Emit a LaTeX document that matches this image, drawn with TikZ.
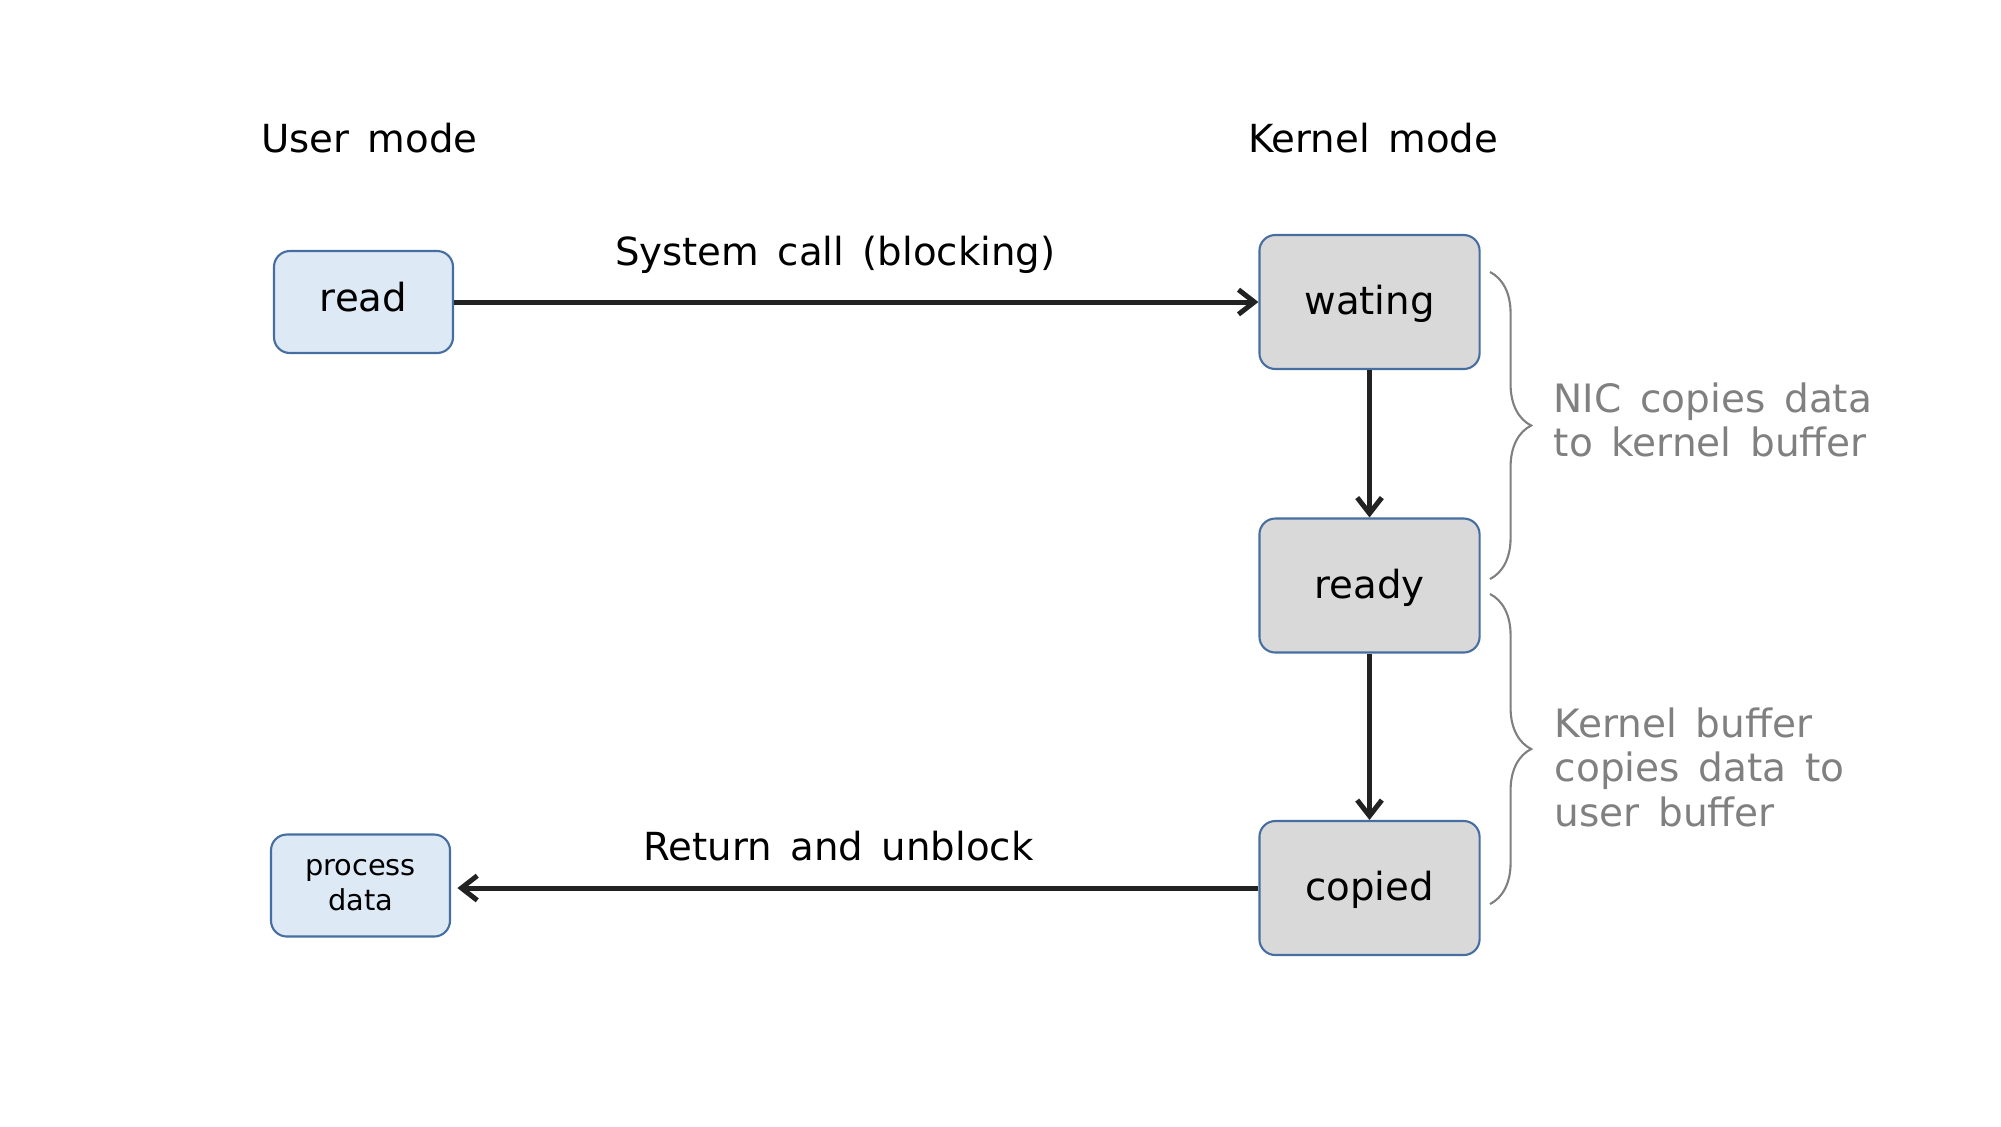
\documentclass[tikz,border=0pt]{standalone}
\usepackage{fontspec}
\setmainfont{DejaVu Sans}[WordSpace=1.5]
\usetikzlibrary{arrows.meta,decorations.pathreplacing}
\definecolor{edgeblue}{RGB}{70,110,160}
\definecolor{userfill}{RGB}{221,233,245}
\definecolor{kernfill}{RGB}{217,217,217}
\definecolor{notegray}{RGB}{128,128,128}
\definecolor{wire}{RGB}{34,34,34}
\begin{document}
\begin{tikzpicture}[x=0.01cm, y=-0.01cm,
  box/.style={draw=edgeblue, line width=0.6pt, rounded corners=4.5pt, align=center,
    font=\fontsize{11}{13}\selectfont, text height=0.76em, text depth=0.24em},
  user/.style={box, fill=userfill, minimum width=50.9pt, minimum height=29pt},
  kern/.style={box, fill=kernfill, minimum width=62.6pt, minimum height=38.1pt, text depth=0.05em},
  call/.style={draw=wire, line width=1.42pt, -{Straight Barb[length=4.5pt,width=7pt]}},
  lbl/.style={font=\fontsize{11}{13}\selectfont, anchor=base},
  brc/.style={draw=notegray, line width=0.6pt, decorate, decoration={brace, amplitude=11.7pt}},
  note/.style={text=notegray, anchor=base west, align=left, inner sep=0pt,
    font=\fontsize{11.1}{12.66}\selectfont}]
\useasboundingbox (0,0) rectangle (2001,1126);

\node[lbl] at (369.5,152) {User mode};
\node[lbl] at (1373.3,152) {Kernel mode};

\node[user] (read) at (363.5,302) {read};
\node[user, font=\fontsize{8.2}{10}\selectfont, text height=, text depth=] (proc) at (360.5,885.5) {process\\data};
\node[kern] (wait) at (1369.5,302) {wating};
\node[kern] (ready) at (1369.5,585.5) {ready};
\node[kern] (copied) at (1369.5,888) {copied};

\draw[call] (read) -- (wait) node[lbl, pos=0.474, yshift=10.5pt] {System call (blocking)};
\draw[call] (wait) -- (ready);
\draw[call] (ready) -- (copied);
\draw[call, shorten >=1.8pt] (copied) -- (copied -| proc.east) node[lbl, pos=0.52, yshift=7.8pt] {Return and unblock};

\draw[brc] (1490,272) -- (1490,579);
\draw[brc] (1490,594) -- (1490,904);
\node[note] at (1553,456.7) {NIC copies data\\to kernel buffer};
\node[note] at (1554,826.2) {Kernel buffer\\copies data to\\user buffer};

\end{tikzpicture}
\end{document}
